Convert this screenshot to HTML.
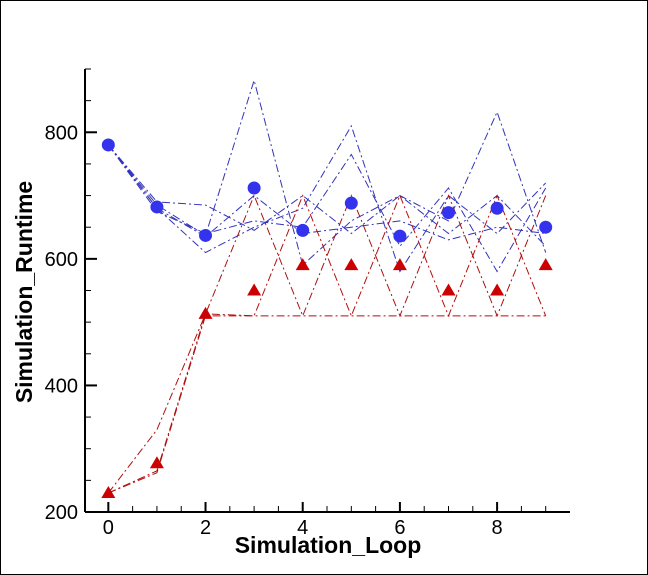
<!DOCTYPE html>
<html><head><meta charset="utf-8"><style>
html,body{margin:0;padding:0;background:#fff}
svg{display:block;font-family:"Liberation Sans",Arial,sans-serif}
</style></head><body>
<svg id="chart" width="648" height="575" xmlns="http://www.w3.org/2000/svg">
<rect x="0.5" y="0.5" width="647" height="574" fill="#fff" stroke="#000" stroke-width="1"/>
<g id="plot"></g>
<text x="328" y="553" font-size="23" font-weight="bold" text-anchor="middle">Simulation_Loop</text>
<text transform="translate(32,292) rotate(-90)" font-size="23" font-weight="bold" text-anchor="middle">Simulation_Runtime</text>
</svg>
<script>
const loops = [0,1,2,3,4,5,6,7,8,9];
const blueMarkers = [780,682,637,712,645,688,636,673,680,650];
const redMarkers = [230,277,513,550,590,590,590,550,550,590];
const blue1 = [780,685,637,882,590,660,700,660,832,610];
const blue2 = [780,680,610,650,680,810,580,700,640,720];
const blue3 = [780,690,685,645,700,640,700,640,700,620];
const blue4 = [780,675,640,660,650,765,620,712,580,712];
const blue5 = [780,680,635,700,640,650,660,630,650,640];
const red1 = [230,330,513,700,510,700,510,700,510,700];
const red2 = [230,265,513,510,700,510,700,510,700,510];
const red3 = [230,262,510,510,510,510,510,510,510,510];
const xTicks = [0,2,4,6,8];
const yTicks = [200,400,600,800];

const X0=85,X1=570,Y0=512,Y1=69,xmin=-0.48,xmax=9.5,ymin=200,ymax=900;
const sx=v=>X0+(v-xmin)/(xmax-xmin)*(X1-X0);
const sy=v=>Y0-(v-ymin)/(ymax-ymin)*(Y0-Y1);
const NS="http://www.w3.org/2000/svg";
const g=document.getElementById('plot');
function mk(t,a){const e=document.createElementNS(NS,t);for(const k in a)e.setAttribute(k,a[k]);g.appendChild(e);return e;}

let ax=mk('line',{x1:X0,y1:Y0,x2:X1,y2:Y0,stroke:'#000','stroke-width':2});


let ay=mk('line',{x1:X0,y1:Y0,x2:X0,y2:Y1,stroke:'#000','stroke-width':2});


for(let v=0;v<=9.01;v+=0.5){const x=sx(v);const maj=Math.abs(v/2-Math.round(v/2))<1e-6;
 const t=mk('line',{x1:x,y1:Y0,x2:x,y2:Y0-(maj?10:6),stroke:'#000','stroke-width':maj?2:1});
 
 }
xTicks.forEach(v=>{const t=mk('text',{x:sx(v),y:Y0+22,'font-size':20,'text-anchor':'middle'});t.textContent=v;
 
 });
for(let v=200;v<=900;v+=50){const y=sy(v);const maj=v%200===0;
 const t=mk('line',{x1:X0,y1:y,x2:X0+(maj?12:6),y2:y,stroke:'#000','stroke-width':maj?2:1});
 
 }
yTicks.forEach(v=>{const t=mk('text',{x:X0-7,y:sy(v)+7,'font-size':20,'text-anchor':'end'});t.textContent=v;
 
 });

function series(arr,color,name){
 const p=mk('polyline',{points:arr.map((v,i)=>sx(loops[i])+','+sy(v)).join(' '),fill:'none',stroke:color,'stroke-width':1,'stroke-dasharray':'8,3,2,3'});
 
 
}
[blue1,blue2,blue3,blue4,blue5].forEach((a,i)=>series(a,'#3333bb','blue-run-'+(i+1)));
[red1,red2,red3].forEach((a,i)=>series(a,'#b01010','red-run-'+(i+1)));

blueMarkers.forEach((v,i)=>{const c=mk('circle',{cx:sx(loops[i]),cy:sy(v),r:6.5,fill:'#3333ee'});
 
 });
redMarkers.forEach((v,i)=>{const x=sx(loops[i]),y=sy(v);
 const t=mk('polygon',{points:`${x},${y-7} ${x-7},${y+5} ${x+7},${y+5}`,fill:'#cc0000'});
 
 });
</script>
</body></html>
